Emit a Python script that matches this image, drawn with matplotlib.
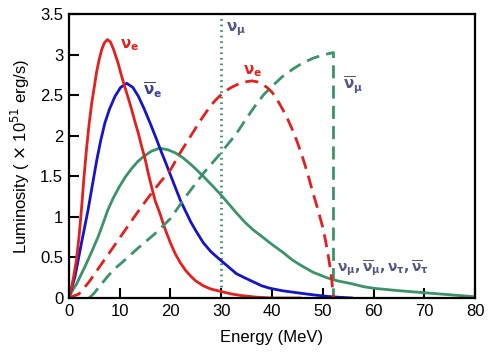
import matplotlib
matplotlib.use("Agg")
import matplotlib.pyplot as plt

plt.rcParams['font.family'] = ['Liberation Sans', 'DejaVu Sans']
plt.rcParams['mathtext.fontset'] = 'dejavusans'

# nu_e (solid red)
e_nue = [0, 0.5, 1, 1.5, 2, 2.5, 3, 3.5, 4, 4.5, 5, 5.5, 6, 6.5, 7, 7.6, 8.2, 8.8, 9.7, 10.3, 11, 11.7, 12.4, 13, 13.7, 14.3, 15, 15.6, 16.3, 17, 17.9, 18.9, 20, 21, 22, 23, 24, 25, 26.5, 28, 30, 32, 34, 37, 40, 45.5]
l_nue = [0, 0.12, 0.28, 0.47, 0.75, 1.1, 1.5, 1.85, 2.15, 2.4, 2.6, 2.8, 2.95, 3.07, 3.15, 3.19, 3.16, 3.07, 2.9, 2.76, 2.61, 2.47, 2.32, 2.18, 2.03, 1.88, 1.72, 1.55, 1.37, 1.2, 1.05, 0.86, 0.68, 0.54, 0.43, 0.34, 0.27, 0.21, 0.15, 0.11, 0.08, 0.05, 0.03, 0.01, 0.0, 0.0]

# anti nu_e (solid blue)
e_anue = [0, 1.2, 2.5, 3.8, 4.6, 5.5, 6.3, 7.1, 8, 9.1, 10.2, 11.4, 12.6, 13.7, 14.8, 16, 17.2, 18.3, 19.2, 20, 21, 22, 23, 24, 25.2, 26.5, 28, 30, 31.5, 33, 34.6, 36.3, 38, 39.6, 42, 45.5, 48, 50.8, 53, 55.7]
l_anue = [0, 0.26, 0.68, 1.09, 1.38, 1.7, 1.95, 2.16, 2.33, 2.49, 2.6, 2.65, 2.6, 2.49, 2.34, 2.16, 1.97, 1.79, 1.65, 1.52, 1.36, 1.2, 1.07, 0.94, 0.81, 0.68, 0.57, 0.46, 0.38, 0.3, 0.25, 0.2, 0.15, 0.12, 0.09, 0.06, 0.04, 0.02, 0.01, 0.0]

# nu_mu, anti nu_mu, nu_tau, anti nu_tau (solid green)
e_nux = [0, 0.5, 1.5, 3.2, 4.5, 5.8, 6.8, 7.7, 8.8, 10, 11.2, 12.4, 13.5, 14.6, 16.2, 17.8, 19.5, 21, 22.5, 24, 25.2, 26.5, 28.2, 30, 31.5, 33, 34.6, 36.3, 38, 39.6, 42, 44, 45.5, 48, 50.8, 53, 55.4, 58, 60, 65, 70, 75, 80]
l_nux = [0, 0.07, 0.17, 0.39, 0.57, 0.76, 0.93, 1.09, 1.24, 1.38, 1.5, 1.6, 1.68, 1.74, 1.81, 1.85, 1.83, 1.79, 1.73, 1.65, 1.58, 1.5, 1.39, 1.27, 1.16, 1.05, 0.94, 0.84, 0.76, 0.68, 0.57, 0.47, 0.41, 0.32, 0.25, 0.21, 0.18, 0.14, 0.12, 0.09, 0.065, 0.04, 0.015]

# nu_e (dashed red)
e_nue2 = [0, 2, 4, 6, 8, 10, 12, 14, 16, 18, 20, 22, 24, 26, 28, 29, 30, 31, 32, 33, 34, 35, 36, 37, 38, 39, 40, 41, 42, 43, 44, 45, 46, 47, 48, 49, 50, 50.5, 51, 51.5, 51.8, 52.1]
l_nue2 = [0, 0.05, 0.2, 0.38, 0.56, 0.74, 0.92, 1.1, 1.27, 1.43, 1.58, 1.8, 2.0, 2.2, 2.38, 2.45, 2.51, 2.56, 2.6, 2.63, 2.66, 2.67, 2.68, 2.67, 2.64, 2.6, 2.54, 2.45, 2.34, 2.22, 2.08, 1.92, 1.74, 1.54, 1.31, 1.1, 0.87, 0.72, 0.55, 0.35, 0.2, 0]

# anti nu_mu (dashed green)
e_anum = [4, 5, 6, 7.7, 9, 10.7, 13.7, 16.9, 20, 23, 26.5, 29.8, 33, 35, 37, 38.5, 40.3, 42, 44.2, 46, 48.1, 50, 52.1, 52.1]
l_anum = [0, 0.06, 0.14, 0.27, 0.36, 0.45, 0.62, 0.79, 0.98, 1.25, 1.54, 1.78, 2.03, 2.22, 2.4, 2.52, 2.63, 2.73, 2.83, 2.9, 2.96, 3.0, 3.03, 0]

# nu_mu threshold (dotted green)
e_thr = [30, 30]
l_thr = [0, 3.5]

xticks = [0, 10, 20, 30, 40, 50, 60, 70, 80]
yticks = [0, 0.5, 1, 1.5, 2, 2.5, 3, 3.5]
ytick_labels = ['0', '0.5', '1', '1.5', '2', '2.5', '3', '3.5']

RED = '#e3201b'
BLUE = '#1414c8'
GREEN = '#3a9468'
LAB = '#55558a'

fig = plt.figure(figsize=(4.95, 3.58), dpi=100)
ax = fig.add_axes([0.139, 0.1676, 0.821, 0.792])

ax.plot(e_thr, l_thr, color=GREEN, lw=2, linestyle=(0, (0.6, 1.4)), dash_capstyle='butt')
ax.plot(e_nux, l_nux, color=GREEN, lw=2)
ax.plot(e_anue, l_anue, color=BLUE, lw=2)
ax.plot(e_nue, l_nue, color=RED, lw=2)
ax.plot(e_anum, l_anum, color=GREEN, lw=2, linestyle=(0, (4.7, 2.6)))
ax.plot(e_nue2, l_nue2, color=RED, lw=2, linestyle=(0, (4.7, 2.6)))

ax.set_xlim(0, 80)
ax.set_ylim(0, 3.5)
ax.set_xticks(xticks)
ax.set_yticks(yticks)
ax.set_yticklabels(ytick_labels)
ax.tick_params(direction='in', length=7, width=1.5, labelsize=12, pad=4)
for s in ax.spines.values():
    s.set_linewidth(1.6)

ax.set_xlabel('Energy (MeV)', fontsize=12, labelpad=8)
ax.set_ylabel(r'Luminosity ( $\times$ 10$^{51}$ erg/s)', fontsize=12, labelpad=6)

fs = 11
ax.text(10.0, 3.12, r'$\mathbf{\nu_e}$', color=RED, fontsize=fs, va='center', ha='left')
ax.text(14.6, 2.57, r'$\mathbf{\overline{\nu}_e}$', color='#3e3e98', fontsize=fs, va='center', ha='left')
ax.text(31.0, 3.32, r'$\mathbf{\nu_\mu}$', color=LAB, fontsize=fs, va='center', ha='left')
ax.text(34.3, 2.8, r'$\mathbf{\nu_e}$', color=RED, fontsize=fs, va='center', ha='left')
ax.text(54.0, 2.62, r'$\mathbf{\overline{\nu}_\mu}$', color=LAB, fontsize=fs, va='center', ha='left')
ax.text(52.8, 0.37, r'$\mathbf{\nu_\mu, \overline{\nu}_\mu, \nu_\tau, \overline{\nu}_\tau}$', color=LAB,
        fontsize=10, va='center', ha='left')

fig.savefig('out.png', dpi=100)
